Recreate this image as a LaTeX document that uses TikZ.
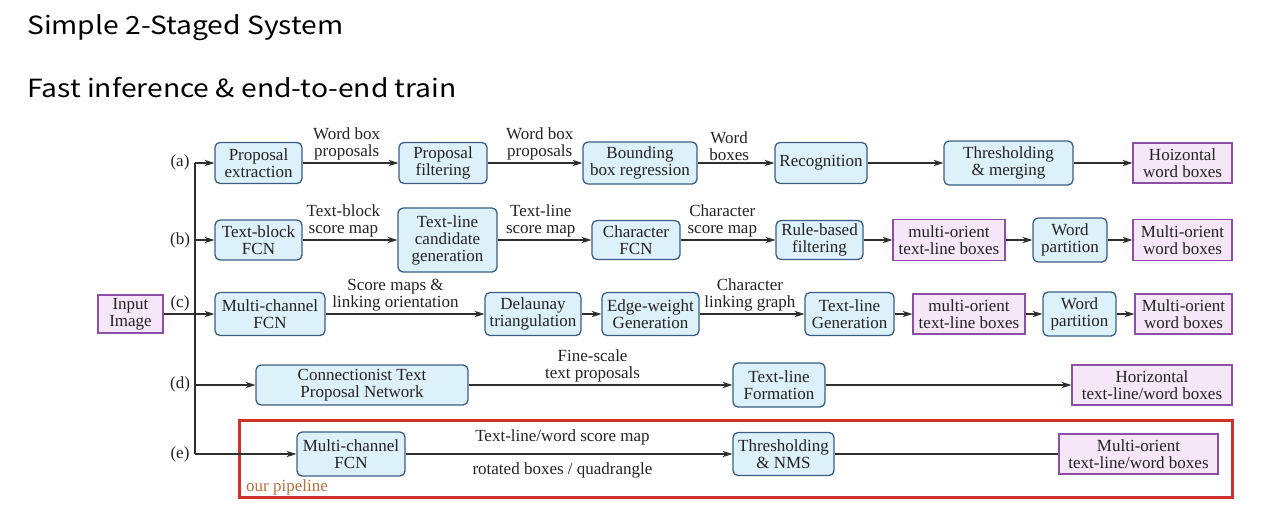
\documentclass[tikz,border=0pt]{standalone}
\usepackage{fontspec}
\setmainfont{Liberation Serif}
\newfontfamily\titlefont[FakeStretch=1.13]{Noto Sans CJK KR}
\usetikzlibrary{arrows.meta}
\definecolor{bluefill}{HTML}{DCF1F9}
\definecolor{blueline}{HTML}{3B5D84}
\definecolor{purpfill}{HTML}{F5E6F8}
\definecolor{purpline}{HTML}{8B4FA6}
\definecolor{linecol}{HTML}{2E2E2E}
\definecolor{redbox}{HTML}{D0312D}
\definecolor{pipecol}{HTML}{B8703E}
\definecolor{txtcol}{HTML}{222222}
\tikzset{
  every node/.style={text=txtcol},
  txt/.style={font=\fontsize{17}{17}\selectfont, align=center, inner sep=0pt},
  procbox/.style={txt, draw=blueline, fill=bluefill, rounded corners=5pt, line width=1.3pt},
  outbox/.style={txt, draw=purpline, fill=purpfill, line width=1.3pt},
  arr/.style={draw=linecol, line width=1.2pt, -{Stealth[length=10pt,width=6.5pt]}},
  plain/.style={draw=linecol, line width=1.2pt},
  lab/.style={txt, above=2pt},
  titletxt/.style={font=\titlefont\fontsize{25}{25}\selectfont, anchor=base west, inner sep=0pt, text=black},
}
\begin{document}
\begin{tikzpicture}[x=1pt,y=-1pt]
\useasboundingbox (0,0) rectangle (1266,520);
% titles
\node[titletxt] (t1) at (27,34) {Simple 2-Staged System};
\node[titletxt] (t2) at (27,97) {Fast inference \& end-to-end train};
% red pipeline frame
\draw[redbox, line width=3pt] (239,420) rectangle (1232,497);
\node[txt, anchor=west, text=pipecol] (pipe) at (246,487) {our pipeline};
% row a
\node[procbox, minimum width=87pt, minimum height=41pt] (a1) at (258.5,163) {Proposal\\extraction};
\node[procbox, minimum width=88pt, minimum height=41pt] (a2) at (443,163) {Proposal\\filtering};
\node[procbox, minimum width=114pt, minimum height=42pt] (a3) at (640,163) {Bounding\\box regression};
\node[procbox, minimum width=92pt, minimum height=41pt] (a4) at (821,163) {Recognition};
\node[procbox, minimum width=129pt, minimum height=44pt] (a5) at (1008.5,163) {Thresholding\\\& merging};
\node[outbox, minimum width=99pt, minimum height=40pt] (a6) at (1182.5,163) {Hoizontal\\word boxes};
% row b
\node[procbox, minimum width=87pt, minimum height=40pt] (b1) at (258.5,240) {Text-block\\FCN};
\node[procbox, minimum width=99pt, minimum height=64pt] (b2) at (447.5,240) {Text-line\\candidate\\generation};
\node[procbox, minimum width=88pt, minimum height=39pt] (b3) at (636,240) {Character\\FCN};
\node[procbox, minimum width=87pt, minimum height=39pt] (b4) at (819.5,240) {Rule-based\\filtering};
\node[outbox, minimum width=112pt, minimum height=41pt] (b5) at (949,240) {multi-orient\\text-line boxes};
\node[procbox, minimum width=74pt, minimum height=44pt] (b6) at (1070,240) {Word\\partition};
\node[outbox, minimum width=99pt, minimum height=41pt] (b7) at (1182.5,240) {Multi-orient\\word boxes};
% row c
\node[outbox, minimum width=65pt, minimum height=38pt] (in) at (130.5,314) {Input\\Image};
\node[procbox, minimum width=110pt, minimum height=43pt] (c1) at (270,314) {Multi-channel\\FCN};
\node[procbox, minimum width=96pt, minimum height=43pt] (c2) at (533,314) {Delaunay\\triangulation};
\node[procbox, minimum width=97pt, minimum height=43pt] (c3) at (650.5,314) {Edge-weight\\Generation};
\node[procbox, minimum width=89pt, minimum height=43pt] (c4) at (849.5,314) {Text-line\\Generation};
\node[outbox, minimum width=112pt, minimum height=40pt] (c5) at (969,314) {multi-orient\\text-line boxes};
\node[procbox, minimum width=73pt, minimum height=44pt] (c6) at (1079.5,314) {Word\\partition};
\node[outbox, minimum width=97pt, minimum height=40pt] (c7) at (1183.5,314) {Multi-orient\\word boxes};
% row d
\node[procbox, minimum width=212pt, minimum height=40pt] (d1) at (362,385) {Connectionist Text\\Proposal Network};
\node[procbox, minimum width=92pt, minimum height=44pt] (d2) at (779,385) {Text-line\\Formation};
\node[outbox, minimum width=160pt, minimum height=40pt] (d3) at (1152,385) {Horizontal\\text-line/word boxes};
% row e
\node[procbox, minimum width=108pt, minimum height=44pt] (e1) at (351,454) {Multi-channel\\FCN};
\node[procbox, minimum width=101pt, minimum height=43pt] (e2) at (783.5,454) {Thresholding\\\& NMS};
\node[outbox, minimum width=159pt, minimum height=40pt] (e3) at (1138.5,454) {Multi-orient\\text-line/word boxes};
% row labels
\node[txt] (la) at (180,162) {(a)};
\node[txt] (lb) at (180,240) {(b)};
\node[txt] (lc) at (180,303) {(c)};
\node[txt] (ld) at (180,384) {(d)};
\node[txt] (le) at (180,454) {(e)};
% trunk
\coordinate (ta) at (195,163);
\coordinate (te) at (195,454);
\draw[plain] (ta) -- (te);
\draw[arr] (ta) -- (a1);
\draw[arr] (ta |- b1) -- (b1);
\draw[arr] (in) -- (c1);
\draw[arr] (ta |- d1) -- (d1);
\draw[arr] (te) -- (e1);
% row a connectors
\draw[arr] (a1) -- node[lab, pos=0.46] {Word box\\proposals} (a2);
\draw[arr] (a2) -- node[lab, pos=0.55] {Word box\\proposals} (a3);
\draw[arr] (a3) -- node[lab, pos=0.41] {Word\\boxes} (a4);
\draw[arr] (a4) -- (a5);
\draw[arr] (a5) -- (a6);
% row b connectors
\draw[arr] (b1) -- node[lab, pos=0.43] {Text-block\\score map} (b2);
\draw[arr] (b2) -- node[lab, pos=0.46] {Text-line\\score map} (b3);
\draw[arr] (b3) -- node[lab, pos=0.44] {Character\\score map} (b4);
\draw[arr] (b4) -- (b5);
\draw[arr] (b5) -- (b6);
\draw[arr] (b6) -- (b7);
% row c connectors
\draw[arr] (c1) -- node[lab, pos=0.44] {Score maps \&\\linking orientation} (c2);
\draw[arr] (c2) -- (c3);
\draw[arr] (c3) -- node[lab, pos=0.48] {Character\\linking graph} (c4);
\draw[arr] (c4) -- (c5);
\draw[arr] (c5) -- (c6);
\draw[arr] (c6) -- (c7);
% row d connectors
\draw[arr] (d1) -- node[lab, pos=0.47] {Fine-scale\\text proposals} (d2);
\draw[arr] (d2) -- (d3);
% row e connectors
\draw[arr] (e1) -- node[txt, pos=0.48, above=8pt] {Text-line/word score map}
                   node[txt, pos=0.48, below=8pt] {rotated boxes / quadrangle} (e2);
\draw[plain] (e2) -- (e3);
\end{tikzpicture}
\end{document}
